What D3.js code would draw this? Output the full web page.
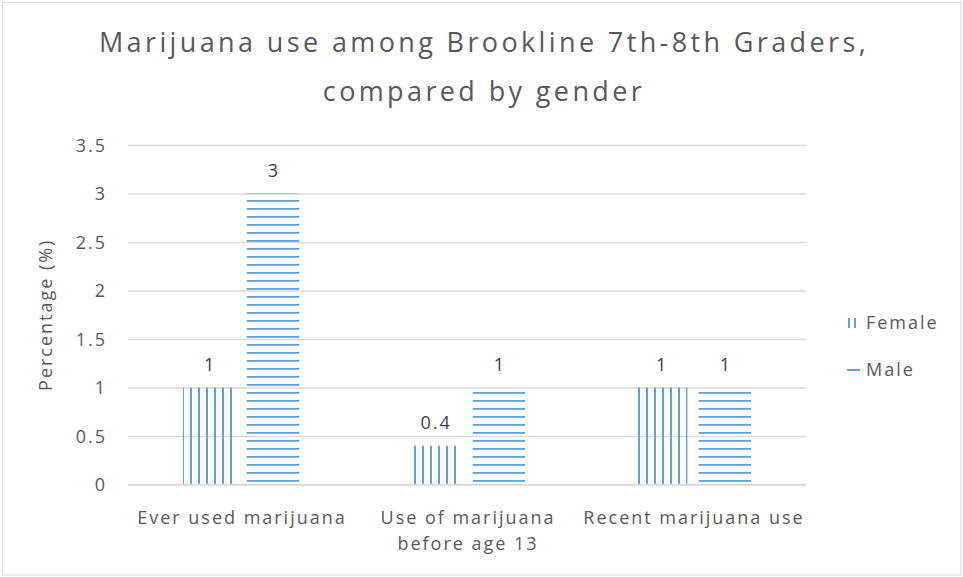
<!DOCTYPE html>
<html>
<head>
<meta charset="utf-8">
<script src="https://cdn.jsdelivr.net/npm/d3@7"></script>
<style>
  html, body { margin: 0; padding: 0; background: #fff; }
  svg { display: block; }
  text { font-family: "Open Sans", "Noto Sans", sans-serif; fill: #595959; letter-spacing: 0.11em; }
  text.title { letter-spacing: 0.125em; }
</style>
</head>
<body>
<svg id="chart" width="963" height="577"></svg>
<script>
// Survey data: marijuana use, Brookline 7th–8th graders
const categories = [["Ever used marijuana"], ["Use of marijuana", "before age 13"], ["Recent marijuana use"]];
const seriesNames = ["Female", "Male"];
const femaleValues = [1, 0.4, 1];
const maleValues = [3, 1, 1];
const yTicks = [0, 0.5, 1, 1.5, 2, 2.5, 3, 3.5];
const titleLines = ["Marijuana use among Brookline 7th-8th Graders,", "compared by gender"];
const yAxisTitle = "Percentage (%)";

const W = 963, H = 577;
const plot = { left: 128, right: 806, top: 145, bottom: 484.5 };
const barColor = "#62a0d8";
const labelSize = 18;

const svg = d3.select("#chart");

// Outer chart frame
svg.append("rect")
  .attr("x", 2.5).attr("y", 2.5).attr("width", W - 4.5).attr("height", H - 4.5)
  .attr("fill", "#fff").attr("stroke", "#d9d9d9").attr("stroke-width", 1);

// Hatch patterns (user space so stripes align across bars)
const defs = svg.append("defs");
const vPat = defs.append("pattern").attr("id", "vlines")
  .attr("patternUnits", "userSpaceOnUse").attr("width", 8).attr("height", 8);
vPat.append("rect").attr("x", 6).attr("y", 0).attr("width", 2).attr("height", 8).attr("fill", barColor);
const hPat = defs.append("pattern").attr("id", "hlines")
  .attr("patternUnits", "userSpaceOnUse").attr("width", 8).attr("height", 8);
hPat.append("rect").attr("x", 0).attr("y", 0).attr("width", 8).attr("height", 1.8).attr("fill", barColor);
const fills = ["url(#vlines)", "url(#hlines)"];

// Scales
const x0 = d3.scaleBand().domain(d3.range(categories.length))
  .range([plot.left, plot.right]).paddingInner(0).paddingOuter(0);
const y = d3.scaleLinear().domain([0, 3.5]).range([plot.bottom, plot.top]);
const band = x0.bandwidth();
const barW = band * 0.232;
const innerGap = band * 0.05;

// Gridlines via axis
const grid = svg.append("g")
  .attr("transform", `translate(${plot.left},0)`)
  .call(d3.axisLeft(y).tickValues(yTicks).tickSize(-(plot.right - plot.left)).tickFormat(""));
grid.select(".domain").remove();
grid.selectAll(".tick line").attr("stroke", "#d9d9d9").attr("stroke-width", 1.5);

// Y tick labels
const yAxis = svg.append("g")
  .attr("transform", `translate(${plot.left - 21},0)`)
  .call(d3.axisLeft(y).tickValues(yTicks).tickSize(0).tickPadding(0).tickFormat(d3.format("")));
yAxis.select(".domain").remove();
yAxis.selectAll("text").attr("font-size", labelSize).style("fill", "#595959")
  .attr("font-family", null).attr("dy", "0.36em");

// Bars
const series = [femaleValues, maleValues];
const barX = (i, s) => x0(i) + band / 2 + (s === 0 ? -innerGap / 2 - barW : innerGap / 2);
series.forEach((vals, s) => {
  svg.append("g").selectAll("rect").data(vals).join("rect")
    .attr("x", (d, i) => barX(i, s))
    .attr("width", barW)
    .attr("y", d => y(d))
    .attr("height", d => y(0) - y(d))
    .attr("fill", fills[s]);
  // Value labels
  svg.append("g").selectAll("text").data(vals).join("text")
    .attr("x", (d, i) => barX(i, s) + barW / 2 + 1)
    .attr("y", d => y(d) - 17)
    .attr("text-anchor", "middle")
    .attr("font-size", labelSize)
    .style("fill", "#404040")
    .text(d => d);
});

// Baseline
svg.append("line")
  .attr("x1", plot.left).attr("x2", plot.right)
  .attr("y1", y(0)).attr("y2", y(0))
  .attr("stroke", "#d9d9d9").attr("stroke-width", 1.5);

// Category labels
categories.forEach((lines, i) => {
  const cx = x0(i) + band / 2 + 1;
  const t = svg.append("text")
    .attr("x", cx).attr("y", 524)
    .attr("text-anchor", "middle").attr("font-size", labelSize);
  lines.forEach((ln, k) => {
    t.append("tspan").attr("x", cx).attr("dy", k === 0 ? 0 : 26).text(ln);
  });
});

// Title
titleLines.forEach((ln, k) => {
  svg.append("text").attr("class", "title")
    .attr("x", 484).attr("y", 52 + k * 49)
    .attr("text-anchor", "middle").attr("font-size", 27)
    .text(ln);
});

// Y axis title
svg.append("text")
  .attr("transform", `translate(52,${(plot.top + plot.bottom) / 2}) rotate(-90)`)
  .attr("text-anchor", "middle").attr("font-size", labelSize)
  .text(yAxisTitle);

// Legend
const legend = svg.append("g");
const lgY = [323, 370];
// Female swatch: two short vertical strokes
[848, 854].forEach(px => {
  legend.append("rect").attr("x", px).attr("y", lgY[0] - 5).attr("width", 2).attr("height", 10).attr("fill", barColor);
});
// Male swatch: short horizontal stroke
legend.append("rect").attr("x", 847).attr("y", lgY[1] - 1).attr("width", 13).attr("height", 2).attr("fill", barColor);
seriesNames.forEach((name, k) => {
  legend.append("text").attr("x", 866).attr("y", lgY[k]).attr("dy", "0.36em")
    .attr("font-size", labelSize).text(name);
});
</script>
</body>
</html>
